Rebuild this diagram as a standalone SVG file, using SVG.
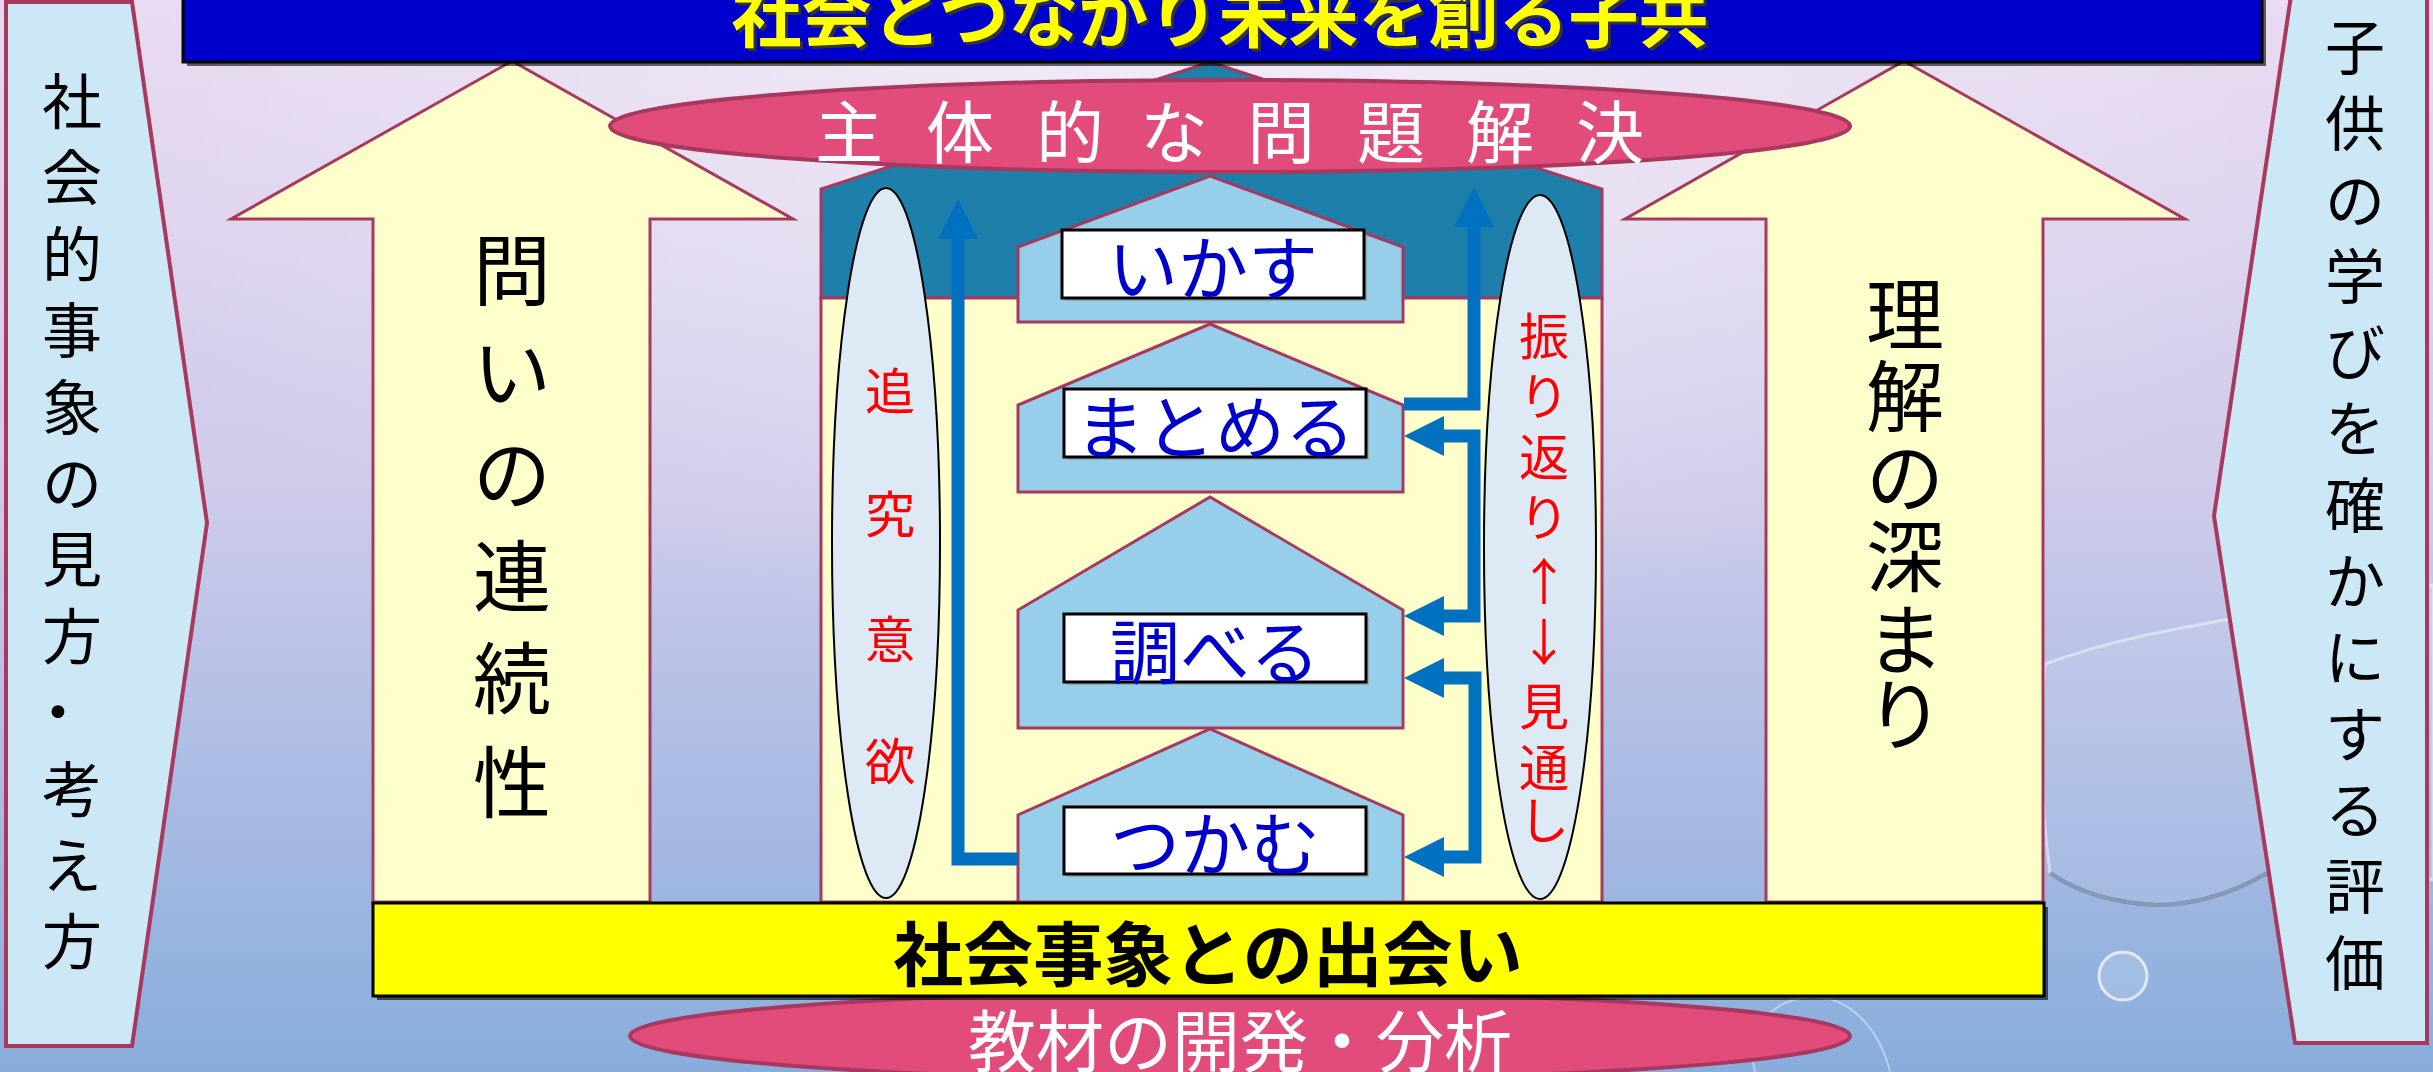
<svg xmlns="http://www.w3.org/2000/svg" width="2433" height="1072" viewBox="0 0 2433 1072">
<style>
.jp{font-family:'Noto Sans CJK JP','Noto Sans CJK SC',sans-serif;}
.cr{stroke:#a8385e;stroke-width:3;}
.panel{fill:#cce7f5;stroke:#a8385e;stroke-width:4;}
.bigarrow{fill:#ffffcc;stroke:#a8385e;stroke-width:3;}
.house{fill:#97cfea;stroke:#a8385e;stroke-width:3;}
.lbox{fill:#ffffff;stroke:#000000;stroke-width:3;}
.lbl{font-size:70px;fill:#0000cc;text-anchor:middle;dominant-baseline:central;}
.vt{fill:#000000;text-anchor:middle;dominant-baseline:central;}
.red{fill:#ff0000;font-size:50px;text-anchor:middle;dominant-baseline:central;}
.oval{fill:#dde9f5;stroke:#000000;stroke-width:2;}
.pink{fill:#e24c7b;stroke:#a8385e;stroke-width:4;}
</style>
<defs>
<linearGradient id="bg" x1="0" y1="0" x2="0" y2="1">
<stop offset="0" stop-color="#e8d9f0"/>
<stop offset="0.45" stop-color="#cfcbea"/>
<stop offset="1" stop-color="#88addc"/>
</linearGradient>
<radialGradient id="glow" cx="0.5" cy="0.1" r="0.5">
<stop offset="0" stop-color="#ffffff" stop-opacity="0.5"/>
<stop offset="1" stop-color="#ffffff" stop-opacity="0"/>
</radialGradient>
<marker id="head" markerUnits="userSpaceOnUse" markerWidth="40" markerHeight="40" refX="1" refY="20" orient="auto-start-reverse" viewBox="0 0 40 40">
<path d="M0,0 L40,20 L0,40 z" fill="#0070c0"/>
</marker>
</defs>

<!-- background -->
<rect x="0" y="0" width="2433" height="1072" fill="url(#bg)"/>
<rect x="0" y="0" width="2433" height="1072" fill="url(#glow)"/>
<g id="decor" fill="none">
<path d="M2045,664 C2110,640 2170,630 2230,619 C2300,600 2380,590 2433,585 L2433,880 C2380,870 2320,868 2267,873 C2230,895 2190,905 2157,905 C2110,903 2075,890 2050,873 C2040,800 2040,720 2045,664 z" fill="#ffffff" fill-opacity="0.08" stroke="#ffffff" stroke-opacity="0.45" stroke-width="3"/>
<path d="M2050,873 C2075,890 2110,903 2157,905 C2190,905 2230,895 2267,873" stroke="#4a5a78" stroke-opacity="0.5" stroke-width="4"/>
<circle cx="2123" cy="976" r="24" fill="#ffffff" fill-opacity="0.15" stroke="#ffffff" stroke-opacity="0.7" stroke-width="3"/>
<path d="M1755,1072 C1745,1030 1770,1000 1810,997 C1850,995 1880,1030 1890,1072" stroke="#ffffff" stroke-opacity="0.4" stroke-width="2"/>
</g>

<!-- side panels -->
<g id="left-panel">
<polygon class="panel" points="6,2 132,2 207,523 132,1046 6,1046"/>
<text class="jp vt" font-size="60" x="72 72 72 72 72 72 72 72 58 72 72 72" y="97 173 250 326 403 479 555 632 708 785 861 937">社会的事象の見方・考え方</text>
</g>
<g id="right-panel">
<polygon class="panel" points="2292,-11 2427,-11 2427,1043 2295,1043 2214,516"/>
<text class="jp vt" font-size="60" x="2355 2355 2355 2355 2355 2355 2355 2355 2355 2355 2355 2355 2355" y="43 119 196 272 348 424 501 577 653 730 806 882 959">子供の学びを確かにする評価</text>
</g>

<!-- big arrows -->
<g id="arrow-left">
<polygon class="bigarrow" points="512,61 793,219 650,219 650,902 373,902 373,219 231,219"/>
<text class="jp vt" font-size="78" x="512 512 512 512 512 512" y="266 368 470 572 674 778">問いの連続性</text>
</g>
<g id="arrow-right">
<polygon class="bigarrow" points="1904,61 2185,219 2043,219 2043,902 1766,902 1766,219 1625,219"/>
<text class="jp vt" font-size="78" x="1905 1905 1905 1905 1905 1905" y="310 392 473 552 635 710">理解の深まり</text>
</g>

<!-- bottom ellipse -->
<g id="kyozai">
<ellipse class="pink" cx="1240" cy="1036" rx="610" ry="44"/>
<text class="jp" font-size="68" x="1240" y="1037" fill="#ffffff" text-anchor="middle" dominant-baseline="central">教材の開発・分析</text>
</g>

<!-- central house -->
<g id="house">
<polygon points="821,298 821,189 1210,62 1602,189 1602,298" fill="#1f7fab" class="cr"/>
<rect x="821" y="298" width="781" height="604" fill="#ffffcc" class="cr"/>
</g>

<!-- side ovals -->
<g id="tsuikyu">
<ellipse class="oval" cx="886" cy="543" rx="54" ry="355"/>
<text class="jp red" x="890 890 890 890" y="388 511 636 758">追究意欲</text>
</g>
<g id="furikaeri">
<ellipse class="oval" cx="1540" cy="547" rx="56" ry="352"/>
<text class="jp red" x="1544 1544 1544 1544 1544 1544 1544 1544 1544" y="333 393 454 514 578 639 703 764 817">振り返り↑↓見通し</text>
</g>

<!-- step houses -->
<g id="step-ikasu">
<polygon class="house" points="1018,322 1018,247 1210,176 1403,247 1403,322"/>
</g>
<g id="step-matomeru">
<polygon class="house" points="1018,492 1018,405 1210,324 1403,405 1403,492"/>
</g>
<g id="step-shiraberu">
<polygon class="house" points="1018,728 1018,610 1210,497 1403,610 1403,728"/>
</g>
<g id="step-tsukamu">
<polygon class="house" points="1018,902 1018,815 1210,729 1403,815 1403,902"/>
</g>

<!-- connectors -->
<g id="connectors" fill="none" stroke="#0070c0" stroke-width="13" stroke-linejoin="miter">
<polyline points="1018,859 958,859 958,238" marker-end="url(#head)"/>
<polyline points="1404,404 1474,404 1474,226" marker-end="url(#head)"/>
<polyline points="1443,436 1474,436 1474,616 1443,616" marker-start="url(#head)" marker-end="url(#head)"/>
<polyline points="1443,678 1475,678 1475,857 1443,857" marker-start="url(#head)" marker-end="url(#head)"/>
</g>

<!-- step labels -->
<g id="label-ikasu">
<rect x="1065" y="233" width="302" height="68" fill="#888888" opacity="0.5"/>
<rect class="lbox" x="1062" y="230" width="302" height="68"/>
<text class="jp lbl" x="1213" y="264">いかす</text>
</g>
<g id="label-matomeru">
<rect x="1067" y="392" width="302" height="68" fill="#888888" opacity="0.5"/>
<rect class="lbox" x="1064" y="389" width="302" height="68"/>
<text class="jp lbl" x="1215" y="423">まとめる</text>
</g>
<g id="label-shiraberu">
<rect x="1067" y="617" width="302" height="68" fill="#888888" opacity="0.5"/>
<rect class="lbox" x="1064" y="614" width="302" height="68"/>
<text class="jp lbl" x="1215" y="648">調べる</text>
</g>
<g id="label-tsukamu">
<rect x="1067" y="810" width="302" height="67" fill="#888888" opacity="0.5"/>
<rect class="lbox" x="1064" y="807" width="302" height="67"/>
<text class="jp lbl" x="1215" y="840">つかむ</text>
</g>

<!-- bottom bar -->
<g id="deai">
<rect x="377" y="907" width="1671" height="93" fill="#000000" opacity="0.6"/>
<rect x="373" y="903" width="1671" height="93" fill="#ffff00" stroke="#000000" stroke-width="3"/>
<text class="jp" font-size="70" font-weight="bold" x="1208" y="950" fill="#000000" text-anchor="middle" dominant-baseline="central">社会事象との出会い</text>
</g>

<!-- problem solving ellipse -->
<g id="shutaiteki">
<ellipse class="pink" cx="1230" cy="126" rx="620" ry="46"/>
<text class="jp" font-size="68" fill="#ffffff" text-anchor="middle" dominant-baseline="central" x="849 960 1070 1174 1281 1391 1500 1610" y="128">主体的な問題解決</text>
</g>

<!-- top banner -->
<g id="banner">
<rect x="187" y="-10" width="2079" height="76" fill="#000000" opacity="0.6"/>
<rect x="183" y="-10" width="2079" height="72" fill="#0000cc" stroke="#000000" stroke-width="3"/>
<text class="jp" font-size="70" font-weight="bold" x="1223" y="45" fill="#333333" text-anchor="middle">社会とつながり未来を創る子共</text>
<text class="jp" font-size="70" font-weight="bold" x="1220" y="42" fill="#ffff00" text-anchor="middle">社会とつながり未来を創る子共</text>
</g>
</svg>
